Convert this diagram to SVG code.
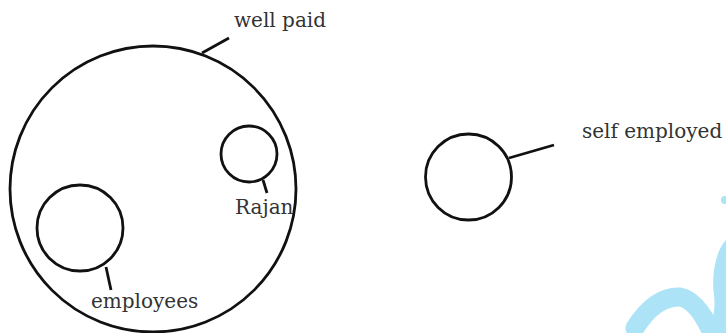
<svg xmlns="http://www.w3.org/2000/svg" width="726" height="333" viewBox="0 0 726 333">
<style>
.c{fill:none;stroke:#111;stroke-width:2.8}
.l{stroke:#111;stroke-width:2.8;fill:none}
.t{font-family:"DejaVu Serif",serif;font-size:20px;fill:#333}
.w{fill:#ade3f7}
</style>
<rect width="726" height="333" fill="#fff"/>
<g id="well-paid">
<circle class="c" cx="153" cy="189" r="143"/>
<text class="t" x="234" y="27">well paid</text>
</g>
<g id="rajan">
<circle class="c" cx="249" cy="154" r="28"/>
<text class="t" x="235" y="214">Rajan</text>
</g>
<g id="employees">
<circle class="c" cx="80" cy="228" r="43"/>
<text class="t" x="91" y="308">employees</text>
</g>
<g id="self-employed">
<circle class="c" cx="468.5" cy="177" r="43"/>
<text class="t" x="582" y="138">self employed</text>
</g>
<g id="connectors">
<line class="l" x1="202" y1="53" x2="229" y2="38"/>
<line class="l" x1="263" y1="180" x2="267" y2="193"/>
<line class="l" x1="106" y1="267" x2="111" y2="290"/>
<line class="l" x1="509" y1="158" x2="554" y2="145"/>
</g>
<g id="watermark">
<circle class="w" cx="725" cy="200" r="4"/>
<path class="w" d="M726 240 C716 250 711 275 714 295 C716 310 712 322 708 333 L726 333 Z"/>
<path d="M635 328 Q655 296 680 297 Q697 300 712 333" fill="none" stroke="#ade3f7" stroke-width="19" stroke-linecap="round"/>
</g>
</svg>
